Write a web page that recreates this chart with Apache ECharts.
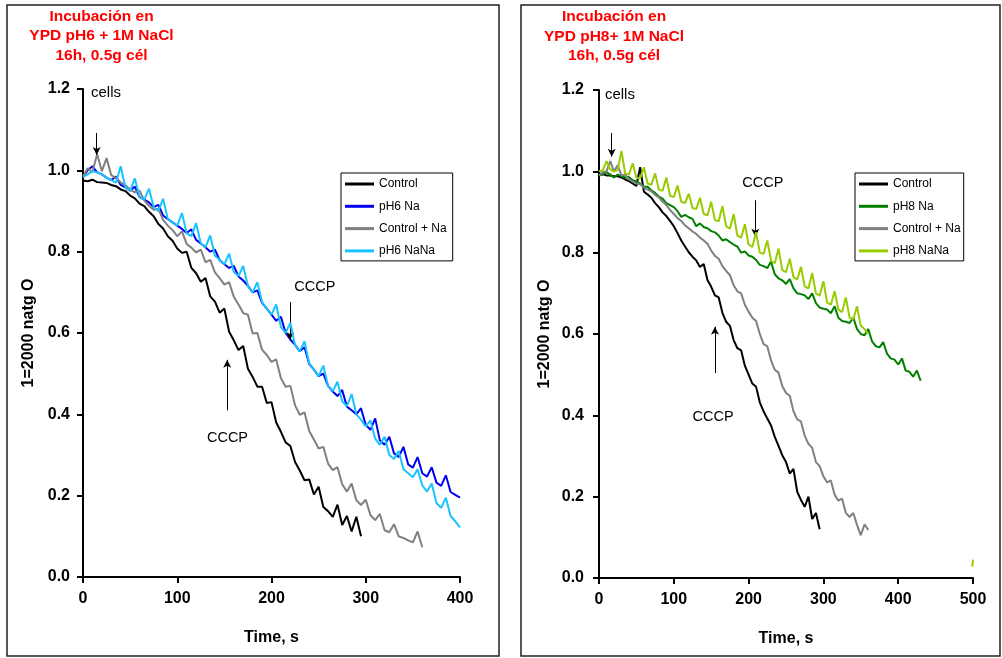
<!DOCTYPE html>
<html><head><meta charset="utf-8">
<script src="https://cdn.jsdelivr.net/npm/echarts@6/dist/echarts.min.js"></script>
<style>html,body{margin:0;padding:0;background:#fff}#c{width:1002px;height:658px}</style>
</head><body><div id="c"></div>
<script>
// ---------- DATA ----------
const STEP = 5; // sampling interval (s)
const xTicksLeft = [0, 100, 200, 300, 400];
const xTicksRight = [0, 100, 200, 300, 400, 500];
const yTicks = [0.0, 0.2, 0.4, 0.6, 0.8, 1.0, 1.2];

const titleLeft = 'Incubación en\nYPD pH6 + 1M NaCl\n16h, 0.5g cél';
const titleRight = 'Incubación en\nYPD pH8+ 1M NaCl\n16h, 0.5g cél';
const namesLeft = ['Control', 'pH6 Na', 'Control + Na', 'pH6 NaNa'];
const namesRight = ['Control', 'pH8 Na', 'Control + Na', 'pH8 NaNa'];

// Left panel (pH6), values every STEP seconds from t = 0
const leftControl = [
  .975,.973,.977,.971,.970,.969,.964,.961,.953,.949,
  .938,.931,.918,.912,.898,.887,.868,.857,.838,.827,
  .808,.797,.800,.760,.747,.726,.735,.690,.677,.650,
  .660,.603,.582,.558,.568,.512,.492,.468,.468,.428,
  .430,.380,.357,.331,.322,.283,.262,.238,.240,.203,
  .222,.172,.162,.148,.178,.128,.150,.112,.148,.100];
const leftPH6Na = [
  .985,1.000,1.010,.995,.990,.982,.976,.985,.964,.958,
  .950,.960,.934,.928,.921,.910,.915,.889,.880,.872,
  .864,.856,.846,.855,.829,.820,.811,.800,.805,.779,
  .769,.760,.765,.739,.729,.716,.700,.705,.674,.660,
  .645,.630,.640,.600,.584,.571,.555,.565,.524,.510,
  .494,.500,.470,.456,.445,.460,.419,.410,.400,.415,
  .374,.362,.390,.336,.325,.345,.304,.295,.320,.277,
  .269,.295,.255,.247,.270,.232,.224,.250,.209,.202,
  .195];
const leftControlNa = [
  .985,1.005,.995,1.040,.998,1.030,.988,.981,.970,.963,
  .953,.946,.950,.926,.913,.903,.905,.878,.864,.853,
  .838,.850,.819,.810,.798,.805,.774,.780,.749,.735,
  .719,.725,.689,.670,.649,.645,.599,.600,.559,.546,
  .529,.535,.489,.468,.470,.422,.399,.405,.359,.338,
  .316,.320,.279,.263,.270,.228,.210,.230,.189,.177,
  .190,.152,.140,.155,.115,.110,.130,.100,.096,.090,
  .085,.112,.073];
const leftPH6NaNa = [
  .983,.990,.998,.995,.990,.982,.976,.970,1.010,.958,
  .950,.980,.935,.928,.955,.910,.900,.930,.880,.872,
  .864,.895,.845,.838,.870,.820,.811,.840,.790,.780,
  .769,.795,.750,.740,.765,.715,.700,.725,.676,.660,
  .645,.670,.615,.600,.625,.570,.555,.580,.525,.510,
  .494,.520,.470,.457,.480,.432,.420,.450,.400,.387,
  .370,.385,.340,.325,.345,.300,.290,.310,.265,.255,
  .245,.265,.225,.210,.230,.182,.170,.195,.150,.137,
  .122];

// Right panel (pH8)
const rightControl = [
  .995,.993,.990,.990,.988,.988,.985,.980,.976,.970,
  .964,1.010,.950,.943,.935,.922,.912,.899,.890,.878,
  .865,.848,.830,.815,.801,.790,.781,.765,.772,.733,
  .716,.695,.690,.652,.630,.620,.585,.565,.560,.522,
  .500,.478,.470,.432,.410,.392,.375,.347,.325,.302,
  .285,.257,.268,.212,.192,.175,.200,.145,.160,.120];
const rightPH8Na = [
  .990,.992,.998,.992,.985,.992,.988,.985,.986,.978,
  .975,.970,.962,.962,.953,.947,.938,.933,.922,.917,
  .912,.902,.888,.893,.887,.883,.865,.872,.863,.860,
  .853,.850,.842,.830,.833,.826,.820,.815,.800,.803,
  .793,.790,.782,.770,.767,.762,.778,.747,.737,.732,
  .723,.735,.712,.700,.698,.695,.686,.700,.676,.665,
  .662,.660,.651,.668,.640,.632,.630,.627,.640,.612,
  .600,.597,.612,.582,.570,.567,.580,.552,.540,.537,
  .525,.540,.510,.507,.495,.510,.485];
const rightControlNa = [
  .990,.998,1.000,1.025,1.000,1.015,.990,.992,.980,.975,
  .970,.968,.960,.955,.951,.942,.936,.925,.917,.905,
  .895,.885,.878,.867,.860,.852,.846,.837,.830,.822,
  .805,.792,.785,.767,.755,.745,.720,.705,.700,.672,
  .655,.640,.632,.600,.575,.570,.535,.512,.505,.472,
  .455,.448,.410,.390,.385,.350,.330,.320,.285,.275,
  .250,.235,.240,.205,.190,.195,.160,.150,.160,.130,
  .105,.132,.118];
const rightPH8NaNa = [
  1.000,1.002,1.025,1.005,1.000,1.003,1.050,.995,.992,1.020,
  .985,.982,1.010,.970,.967,.995,.955,.952,.985,.940,
  .937,.965,.925,.922,.945,.910,.907,.935,.895,.892,
  .925,.880,.877,.915,.865,.859,.895,.842,.837,.870,
  .820,.814,.850,.800,.797,.830,.780,.774,.810,.757,
  .752,.785,.740,.734,.765,.717,.712,.750,.700,.694,
  .730,.677,.672,.705,.660,.654,.690,.640,.637,.668,
  .620,.612,.600];
// isolated stray trace of pH8 NaNa near t = 500 s
const rightPH8NaNaStrayT = [499, 500];
const rightPH8NaNaStrayV = [0.028, 0.045];

// annotations: [text, x, y] label centres and arrows [x, yFrom, yTo] in data units
const annotLeftText = [['cells', 24.4, 1.19], ['CCCP', 246, 0.713], ['CCCP', 153.3, 0.342]];
const annotLeftArrows = [[14.5, 1.092, 1.038], [219.6, 0.676, 0.583], [153, 0.41, 0.534]];
const annotRightText = [['cells', 28, 1.188], ['CCCP', 219, 0.971], ['CCCP', 152.5, 0.396]];
const annotRightArrows = [[17, 1.094, 1.036], [209, 0.929, 0.839], [155, 0.504, 0.618]];

// ---------- CHART ----------
const FONT = "'Liberation Sans', Arial, sans-serif";
const pairs = vals => vals.map((v, i) => [i * STEP, v]);
const colorsLeft = ['#000000', '#0000F0', '#808080', '#19C3FF'];
const colorsRight = ['#000000', '#008000', '#808080', '#99CC00'];

function lineSeries(name, data, color, idx, z) {
  return {
    name, type: 'line', data, xAxisIndex: idx, yAxisIndex: idx,
    symbol: 'none', showSymbol: false, animation: false, z: z,
    lineStyle: { color, width: 2 }, itemStyle: { color },
    emphasis: { disabled: true }, silent: true, connectNulls: false
  };
}
function annotSeries(idx, texts, arrows) {
  return {
    type: 'line', data: [], xAxisIndex: idx, yAxisIndex: idx, silent: true, animation: false, z: 10,
    markLine: {
      silent: true, animation: false, symbol: ['none', 'arrow'], symbolSize: [6, 8],
      label: { show: false }, lineStyle: { color: '#000', width: 1, type: 'solid' },
      itemStyle: { color: '#000' },
      emphasis: { disabled: true },
      data: arrows.map(a => [{ coord: [a[0], a[1]] }, { coord: [a[0], a[2]] }])
    },
    markPoint: {
      silent: true, animation: false, symbol: 'circle', symbolSize: 1,
      itemStyle: { color: 'rgba(0,0,0,0)' },
      label: { show: true, position: 'inside', color: '#000', fontFamily: FONT, fontSize: 14.5 },
      data: texts.map(t => ({ coord: [t[1], t[2]], value: t[0], label: { formatter: t[0], fontSize: t[0] === 'cells' ? 15 : 14.5 } }))
    }
  };
}
const stray = rightPH8NaNaStrayT.map((t, i) => [t, rightPH8NaNaStrayV[i]]);

const axisCommonX = (max, ticks) => ({
  type: 'value', min: 0, max: max, interval: 100,
  axisLine: { show: true, onZero: false, lineStyle: { color: '#000', width: 2 } },
  axisTick: { show: true, inside: false, length: 6, lineStyle: { color: '#000', width: 2 } },
  axisLabel: { color: '#000', fontFamily: FONT, fontSize: 16, fontWeight: 'bold', margin: 14,
    formatter: v => ticks.includes(v) ? String(v) : '' },
  splitLine: { show: false },
  name: 'Time, s', nameLocation: 'middle', nameGap: 53,
  nameTextStyle: { color: '#000', fontFamily: FONT, fontSize: 16, fontWeight: 'bold' }
});
const axisCommonY = (margin) => ({
  type: 'value', min: 0, max: 1.2, interval: 0.2,
  axisLine: { show: true, onZero: false, lineStyle: { color: '#000', width: 2 } },
  axisTick: { show: true, inside: false, length: 6, lineStyle: { color: '#000', width: 2 } },
  axisLabel: { color: '#000', fontFamily: FONT, fontSize: 16, fontWeight: 'bold', margin: margin,
    formatter: v => { const t = yTicks.find(y => Math.abs(y - v) < 1e-6); return t === undefined ? '' : t.toFixed(1); } },
  splitLine: { show: false },
  name: '1=2000 natg O', nameLocation: 'middle', nameGap: 46,
  nameTextStyle: { color: '#000', fontFamily: FONT, fontSize: 16, fontWeight: 'bold' }
});
const legendCommon = {
  orient: 'vertical', backgroundColor: '#fff', borderColor: '#000', borderWidth: 1,
  itemWidth: 29, itemHeight: 3, itemGap: 8.3, selectedMode: false, icon: 'rect',
  textStyle: { color: '#000', fontFamily: FONT, fontSize: 12, lineHeight: 14 }
};

const chart = echarts.init(document.getElementById('c'), null, { renderer: 'canvas' });
chart.setOption({
  animation: false,
  backgroundColor: '#fff',
  grid: [
    { left: 83, top: 89, width: 377, height: 488, containLabel: false },
    { left: 599, top: 90, width: 374, height: 488, containLabel: false }
  ],
  xAxis: [axisCommonX(400, xTicksLeft), Object.assign(axisCommonX(500, xTicksRight), { gridIndex: 1 })],
  yAxis: [Object.assign(axisCommonY(13), { gridIndex: 0 }), Object.assign(axisCommonY(15), { gridIndex: 1 })],
  legend: [
    Object.assign({}, legendCommon, { data: namesLeft, left: 341, top: 173, padding: [4, 6, 3, 4] }),
    Object.assign({}, legendCommon, { data: namesRight, left: 855, top: 173, padding: [4, 3, 3, 4] })
  ],
  graphic: [
    { type: 'rect', shape: { x: 7, y: 5, width: 492, height: 651 }, style: { fill: 'none', stroke: '#222', lineWidth: 1.5 }, silent: true, z: -10 },
    { type: 'rect', shape: { x: 521, y: 5, width: 479, height: 651 }, style: { fill: 'none', stroke: '#222', lineWidth: 1.5 }, silent: true, z: -10 },
    { type: 'text', x: 101.5, y: 6.5, silent: true,
      style: { text: titleLeft, fill: '#FF0000', font: "bold 15.5px 'Liberation Sans', Arial, sans-serif", textAlign: 'center', textVerticalAlign: 'top', lineHeight: 19.5 } },
    { type: 'text', x: 614, y: 7, silent: true,
      style: { text: titleRight, fill: '#FF0000', font: "bold 15.5px 'Liberation Sans', Arial, sans-serif", textAlign: 'center', textVerticalAlign: 'top', lineHeight: 19.5 } }
  ],
  series: [
    lineSeries(namesLeft[0], pairs(leftControl), colorsLeft[0], 0, 2),
    lineSeries(namesLeft[1], pairs(leftPH6Na), colorsLeft[1], 0, 3),
    lineSeries(namesLeft[2], pairs(leftControlNa), colorsLeft[2], 0, 4),
    lineSeries(namesLeft[3], pairs(leftPH6NaNa), colorsLeft[3], 0, 5),
    lineSeries(namesRight[0], pairs(rightControl), colorsRight[0], 1, 2),
    lineSeries(namesRight[1], pairs(rightPH8Na), colorsRight[1], 1, 3),
    lineSeries(namesRight[2], pairs(rightControlNa), colorsRight[2], 1, 4),
    lineSeries(namesRight[3], pairs(rightPH8NaNa).concat([['-', '-']], stray), colorsRight[3], 1, 5),
    annotSeries(0, annotLeftText, annotLeftArrows),
    annotSeries(1, annotRightText, annotRightArrows)
  ]
});
</script>
</body></html>
